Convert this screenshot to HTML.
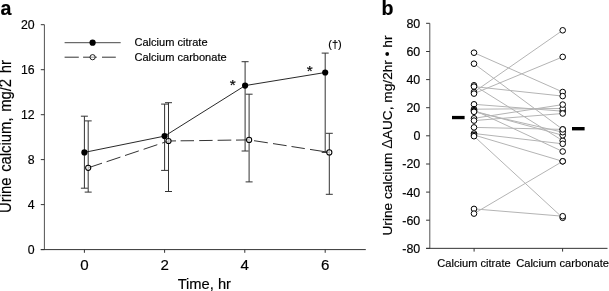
<!DOCTYPE html><html><head><meta charset="utf-8"><title>Urine calcium</title>
<style>html,body{margin:0;padding:0;background:#fff}svg{display:block}text{font-family:"Liberation Sans",Arial,sans-serif;fill:#000;stroke:#000;stroke-width:0.17px}</style></head><body>
<svg width="609" height="291" viewBox="0 0 609 291">
<rect width="609" height="291" fill="#fff"/>
<text x="0.6" y="14.7" font-size="19.6" font-weight="bold" stroke="none">a</text>
<g stroke="#333" stroke-width="1" fill="none">
<path d="M44.4 24.7V249.6" stroke-width="0.85"/><path d="M40.8 249.6H365.8"/>
<path d="M40.8 249.6H44.4"/>
<path d="M40.8 204.6H44.4"/>
<path d="M40.8 159.6H44.4"/>
<path d="M40.8 114.7H44.4"/>
<path d="M40.8 69.7H44.4"/>
<path d="M40.8 24.7H44.4"/>
<path d="M84.4 249.6V252.8"/>
<path d="M164.6 249.6V252.8"/>
<path d="M244.8 249.6V252.8"/>
<path d="M325.2 249.6V252.8"/>
</g>
<text x="34.7" y="254.0" font-size="12.3" text-anchor="end">0</text>
<text x="34.7" y="209.0" font-size="12.3" text-anchor="end">4</text>
<text x="34.7" y="164.0" font-size="12.3" text-anchor="end">8</text>
<text x="34.7" y="119.1" font-size="12.3" text-anchor="end">12</text>
<text x="34.7" y="74.1" font-size="12.3" text-anchor="end">16</text>
<text x="34.7" y="29.1" font-size="12.3" text-anchor="end">20</text>
<text x="84.4" y="269.9" font-size="15.1" text-anchor="middle">0</text>
<text x="164.6" y="269.9" font-size="15.1" text-anchor="middle">2</text>
<text x="244.8" y="269.9" font-size="15.1" text-anchor="middle">4</text>
<text x="325.2" y="269.9" font-size="15.1" text-anchor="middle">6</text>
<text x="204.3" y="288.8" font-size="14.7" text-anchor="middle">Time, hr</text>
<text transform="translate(11.3,136.5) rotate(-90) scale(1,1.07)" font-size="14.85" word-spacing="1.5" text-anchor="middle">Urine calcium, mg/2 hr</text>
<g stroke="#333" stroke-width="1" fill="none">
<path d="M64.6 42.7H120.7" stroke-width="0.9"/>
<path d="M64.6 57.2H78.8M83.1 57.2H96.8M102 57.2H115.8"/>
</g>
<circle cx="92.6" cy="42.7" r="3.1" fill="#000"/>
<circle cx="92.6" cy="57.2" r="2.6" fill="#fff" fill-opacity="0.5" stroke="#111" stroke-width="0.95"/>
<text x="134.5" y="46.2" font-size="11.05">Calcium citrate</text>
<text x="134.5" y="60.8" font-size="11.05">Calcium carbonate</text>
<g stroke="#333" stroke-width="1" fill="none">
<path d="M84.4 116.2V188.2M80.9 116.2H87.9M80.9 188.2H87.9"/>
<path d="M164.6 104.1V170.4M161.1 104.1H168.1M161.1 170.4H168.1"/>
<path d="M245.1 61.7V151.0M241.6 61.7H248.6M241.6 151.0H248.6"/>
<path d="M325.2 53.1V152.4M321.7 53.1H328.7M321.7 152.4H328.7"/>
<path d="M88.2 120.9V192.1M84.7 120.9H91.7M84.7 192.1H91.7"/>
<path d="M168.5 102.7V191.5M165.0 102.7H172.0M165.0 191.5H172.0"/>
<path d="M249.1 94.2V181.9M245.6 94.2H252.6M245.6 181.9H252.6"/>
<path d="M329.3 133.3V194.3M325.8 133.3H332.8M325.8 194.3H332.8"/>
<path d="M84.4 152.4 L164.6 136.1 L245.1 85.6 L325.2 72.5" stroke="#111" stroke-width="0.9"/>
<path d="M88.2 167.8L102.0 163.2M106.6 161.7L120.4 157.1M125.0 155.5L138.8 150.9M143.6 149.3L157.3 144.7M162.1 143.1L168.5 141.0M168.5 141.0L176.0 140.9M180.6 140.8L194.0 140.7M199.2 140.6L212.6 140.4M217.6 140.3L231.3 140.1M236.0 140.1L249.1 139.9M254.0 140.7L267.8 142.8M273.0 143.6L286.6 145.7M291.5 146.5L304.8 148.6M310.0 149.4L329.3 152.4"/>
</g>
<circle cx="84.4" cy="152.4" r="3.1" fill="#000"/>
<circle cx="164.6" cy="136.1" r="3.1" fill="#000"/>
<circle cx="245.1" cy="85.6" r="3.1" fill="#000"/>
<circle cx="325.2" cy="72.5" r="3.1" fill="#000"/>
<circle cx="88.2" cy="167.8" r="2.6" fill="#fff" fill-opacity="0.65" stroke="#000" stroke-width="1.05"/>
<circle cx="168.5" cy="141.0" r="2.6" fill="#fff" fill-opacity="0.65" stroke="#000" stroke-width="1.05"/>
<circle cx="249.1" cy="139.9" r="2.6" fill="#fff" fill-opacity="0.65" stroke="#000" stroke-width="1.05"/>
<circle cx="329.3" cy="152.4" r="2.6" fill="#fff" fill-opacity="0.65" stroke="#000" stroke-width="1.05"/>
<text x="232.7" y="89.7" font-size="15.3" text-anchor="middle">*</text>
<text x="309.8" y="76.1" font-size="15.3" text-anchor="middle">*</text>
<text x="335" y="48.3" font-size="11" text-anchor="middle">(†)</text>
<text x="381.5" y="14.6" font-size="19.6" font-weight="bold" stroke="none">b</text>
<g stroke="#333" stroke-width="1" fill="none">
<path d="M429.8 23.3V248.35" stroke-width="0.85"/><path d="M426.1 248.35H607.5"/>
<path d="M426.1 248.4H429.8"/>
<path d="M426.1 220.2H429.8"/>
<path d="M426.1 192.1H429.8"/>
<path d="M426.1 164.0H429.8"/>
<path d="M426.1 135.8H429.8"/>
<path d="M426.1 107.7H429.8"/>
<path d="M426.1 79.6H429.8"/>
<path d="M426.1 51.5H429.8"/>
<path d="M426.1 23.3H429.8"/>
<path d="M474.1 248.35V251.6"/>
<path d="M562.6 248.35V251.6"/>
</g>
<text x="420.3" y="252.8" font-size="12.45" text-anchor="end">-80</text>
<text x="420.3" y="224.7" font-size="12.45" text-anchor="end">-60</text>
<text x="420.3" y="196.6" font-size="12.45" text-anchor="end">-40</text>
<text x="420.3" y="168.4" font-size="12.45" text-anchor="end">-20</text>
<text x="420.3" y="140.3" font-size="12.45" text-anchor="end">0</text>
<text x="420.3" y="112.2" font-size="12.45" text-anchor="end">20</text>
<text x="420.3" y="84.0" font-size="12.45" text-anchor="end">40</text>
<text x="420.3" y="55.9" font-size="12.45" text-anchor="end">60</text>
<text x="420.3" y="27.8" font-size="12.45" text-anchor="end">80</text>
<text x="474" y="266.8" font-size="11.1" text-anchor="middle">Calcium citrate</text>
<text x="562.6" y="266.8" font-size="11.15" text-anchor="middle">Calcium carbonate</text>
<text transform="translate(391.7,135.5) rotate(-90)" font-size="13.7" text-anchor="middle">Urine calcium <tspan stroke="none" fill="#111" font-size="14.4">Δ</tspan>AUC, mg/2hr • hr</text>
<g stroke="#b4b4b4" stroke-width="1" fill="none">
<path d="M474 52.7L562.7 92"/>
<path d="M474 63.7L562.7 129.4"/>
<path d="M474 85.3L562.7 140.7"/>
<path d="M474 86.6L562.7 96.1"/>
<path d="M474 92L562.7 30.3"/>
<path d="M474 93.6L562.7 56.9"/>
<path d="M474 104.3L562.7 111.2"/>
<path d="M474 109.2L562.7 108.5"/>
<path d="M474 110.2L562.7 151.5"/>
<path d="M474 111.0L562.7 135.3"/>
<path d="M474 111.8L562.7 132.2"/>
<path d="M474 118.3L562.7 104.6"/>
<path d="M474 120.6L562.7 113.5"/>
<path d="M474 127.4L562.7 129.4"/>
<path d="M474 133.5L562.7 143.8"/>
<path d="M474 135L562.7 161.3"/>
<path d="M474 136.2L562.7 217.8"/>
<path d="M474 208.9L562.7 216.2"/>
<path d="M474 213.6L562.7 161.3"/>
</g>
<g fill="#fff" stroke="#000" stroke-width="1">
<circle cx="474" cy="52.7" r="2.8"/>
<circle cx="474" cy="63.7" r="2.8"/>
<circle cx="474" cy="85.3" r="2.8"/>
<circle cx="474" cy="86.6" r="2.8"/>
<circle cx="474" cy="92" r="2.8"/>
<circle cx="474" cy="93.6" r="2.8"/>
<circle cx="474" cy="104.3" r="2.8"/>
<circle cx="474" cy="109.2" r="2.8"/>
<circle cx="474" cy="110.2" r="2.8"/>
<circle cx="474" cy="111.0" r="2.8"/>
<circle cx="474" cy="111.8" r="2.8"/>
<circle cx="474" cy="118.3" r="2.8"/>
<circle cx="474" cy="120.6" r="2.8"/>
<circle cx="474" cy="127.4" r="2.8"/>
<circle cx="474" cy="133.5" r="2.8"/>
<circle cx="474" cy="135" r="2.8"/>
<circle cx="474" cy="136.2" r="2.8"/>
<circle cx="474" cy="208.9" r="2.8"/>
<circle cx="474" cy="213.6" r="2.8"/>
<circle cx="562.7" cy="92" r="2.8"/>
<circle cx="562.7" cy="129.4" r="2.8"/>
<circle cx="562.7" cy="140.7" r="2.8"/>
<circle cx="562.7" cy="96.1" r="2.8"/>
<circle cx="562.7" cy="30.3" r="2.8"/>
<circle cx="562.7" cy="56.9" r="2.8"/>
<circle cx="562.7" cy="111.2" r="2.8"/>
<circle cx="562.7" cy="108.5" r="2.8"/>
<circle cx="562.7" cy="151.5" r="2.8"/>
<circle cx="562.7" cy="135.3" r="2.8"/>
<circle cx="562.7" cy="132.2" r="2.8"/>
<circle cx="562.7" cy="104.6" r="2.8"/>
<circle cx="562.7" cy="113.5" r="2.8"/>
<circle cx="562.7" cy="129.4" r="2.8"/>
<circle cx="562.7" cy="143.8" r="2.8"/>
<circle cx="562.7" cy="161.3" r="2.8"/>
<circle cx="562.7" cy="217.8" r="2.8"/>
<circle cx="562.7" cy="216.2" r="2.8"/>
<circle cx="562.7" cy="161.3" r="2.8"/>
</g>
<rect x="452" y="115.9" width="12.6" height="3.3" fill="#000"/>
<rect x="572" y="127" width="12.6" height="3.4" fill="#000"/>
</svg></body></html>
